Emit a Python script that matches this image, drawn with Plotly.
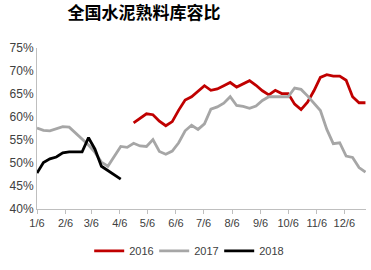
import pandas as pd
import plotly.graph_objects as go

# Weekly dates on a common (non-leap) calendar year
weeks = pd.date_range("2017-01-06", periods=52, freq="7D")

tick_dates = ["2017-%02d-06" % m for m in range(1, 13)]
tick_labels = ["%d/6" % m for m in range(1, 13)]

# 2016: weeks 15..51
v2016 = [58.7, 59.7, 60.7, 60.5, 59.1, 58.1, 59.0, 61.5, 63.7, 64.4,
         65.5, 66.8, 65.8, 66.1, 66.8, 67.5, 66.5, 67.2, 67.9, 66.9,
         65.7, 64.8, 65.8, 65.1, 65.1, 62.8, 61.6, 63.2, 65.7, 68.6,
         69.2, 68.9, 68.9, 68.0, 64.4, 63.1, 63.1]
# 2017: weeks 0..51
v2017 = [57.6, 57.1, 57.0, 57.5, 57.9, 57.8, 56.5, 55.3, 53.9, 52.3,
         50.2, 49.3, 51.6, 53.6, 53.4, 54.3, 53.7, 53.6, 55.1, 52.5,
         51.9, 52.6, 54.4, 57.0, 58.2, 57.3, 58.5, 61.7, 62.2, 63.0,
         64.4, 62.5, 62.3, 61.9, 62.4, 63.6, 64.4, 64.4, 64.4, 64.4,
         66.3, 66.0, 64.6, 62.9, 61.4, 57.3, 54.2, 54.4, 51.5, 51.2,
         49.0, 48.0]
# 2018: weeks 0..13
v2018 = [47.8, 50.1, 50.9, 51.3, 52.2, 52.4, 52.4, 52.4, 55.5, 53.0,
         49.3, 48.3, 47.4, 46.5]

series = [
    ("2016", weeks[52 - len(v2016):], v2016, "#c00000"),
    ("2017", weeks[:len(v2017)], v2017, "#a6a6a6"),
    ("2018", weeks[:len(v2018)], v2018, "#000000"),
]

fig = go.Figure()
for name, x, y, color in series:
    fig.add_trace(go.Scatter(x=x, y=y, mode="lines", name=name,
                             line=dict(color=color, width=2.8)))

font_main = "Liberation Sans, Arial, sans-serif"
fig.update_layout(
    width=371, height=270,
    margin=dict(l=37, r=5, t=48, b=50),
    paper_bgcolor="white", plot_bgcolor="white",
    font=dict(family=font_main, size=11, color="#404040"),
    title=dict(text="<b>全国水泥熟料库容比</b>",
               font=dict(family="Noto Sans CJK SC", size=17, color="#000000"),
               xref="container", x=0.388, xanchor="center",
               yref="container", y=0.952, yanchor="middle"),
    showlegend=True,
    legend=dict(orientation="h", x=0.455, xanchor="center",
                y=-0.26, yanchor="middle",
                font=dict(size=11, color="#404040"),
                entrywidth=20, entrywidthmode="pixels",
                itemwidth=30, tracegroupgap=0),
    xaxis=dict(type="date",
               range=["2017-01-06", "2017-12-29 14:00"],
               tickvals=tick_dates, ticktext=tick_labels,
               showgrid=False, zeroline=False,
               showline=True, linecolor="#bfbfbf", linewidth=1,
               ticks="outside", ticklen=4, tickcolor="#bfbfbf",
               tickfont=dict(size=11, color="#404040")),
    yaxis=dict(range=[40, 75], dtick=5, ticksuffix="%",
               showgrid=False, zeroline=False,
               showline=True, linecolor="#bfbfbf", linewidth=1,
               ticks="", tickfont=dict(size=12, color="#404040")),
)

fig.write_html("out.html")
